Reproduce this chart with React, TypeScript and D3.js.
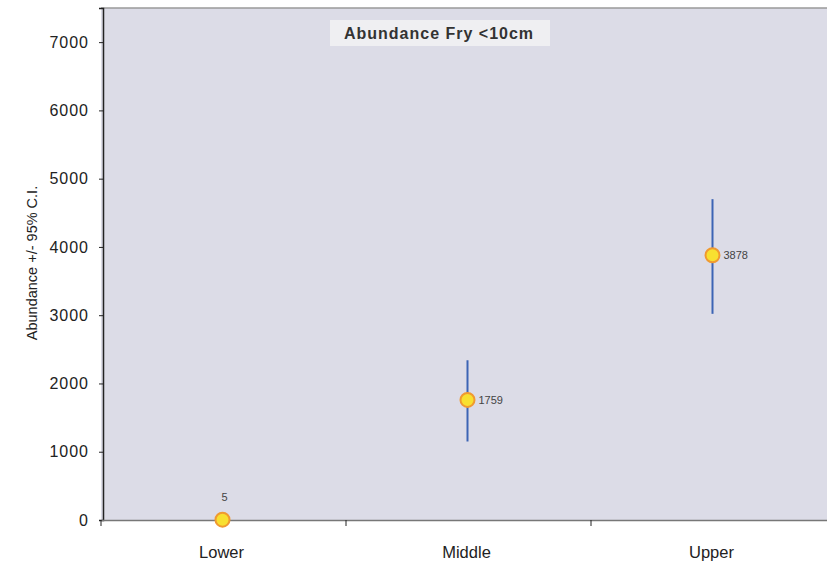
import React, { useEffect, useRef } from 'react';
import * as d3 from 'd3';

// Data
const categories = ['Lower', 'Middle', 'Upper'];
const abundance = [5, 1759, 3878];
const ciLow = [0, 1150, 3020];
const ciHigh = [10, 2340, 4700];
const yTicks = [0, 1000, 2000, 3000, 4000, 5000, 6000, 7000];

const App = () => {
  const chartRef = useRef<SVGSVGElement>(null);

  useEffect(() => {
    const W = 827;
    const H = 571;
    const left = 101;
    const right = 836;
    const top = 8;
    const bottom = 520;
    const font = 'Liberation Sans, Arial, sans-serif';

    const svg = d3.select(chartRef.current);
    svg.selectAll('*').remove();

    svg.append('rect').attr('width', W).attr('height', H).attr('fill', '#ffffff');

    const x = d3.scaleBand<string>().domain(categories).range([left, right]);
    const y = d3.scaleLinear().domain([0, 7500]).range([bottom, top]);

    // Plot area
    svg.append('rect')
      .attr('x', left)
      .attr('y', top)
      .attr('width', right - left)
      .attr('height', bottom - top)
      .attr('fill', '#dcdce7');
    svg.append('line')
      .attr('x1', left).attr('x2', right)
      .attr('y1', top).attr('y2', top)
      .attr('stroke', '#9a9a9a').attr('stroke-width', 1.5);

    // Title box
    svg.append('rect')
      .attr('x', 330).attr('y', 20).attr('width', 220).attr('height', 26)
      .attr('fill', '#efeff2');
    svg.append('text')
      .attr('x', 439).attr('y', 39)
      .attr('text-anchor', 'middle')
      .attr('font-family', font)
      .attr('font-weight', 'bold')
      .attr('font-size', '16px')
      .attr('letter-spacing', '1px')
      .attr('fill', '#333')
      .text('Abundance Fry <10cm');

    // Y axis
    const yAxis = svg.append('g')
      .attr('transform', `translate(${left + 2},0)`)
      .call(d3.axisLeft(y).tickValues(yTicks).tickSize(4).tickPadding(10).tickFormat(d3.format('d')));
    yAxis.select('.domain').attr('stroke', '#222').attr('stroke-width', 1.5);
    yAxis.selectAll('line').attr('stroke', '#222');
    yAxis.selectAll('text')
      .attr('font-family', font)
      .attr('font-size', '16px')
      .attr('letter-spacing', '1px')
      .attr('fill', '#222');

    // X axis
    const xAxis = svg.append('g')
      .attr('transform', `translate(0,${bottom})`)
      .call(d3.axisBottom(x).tickSize(0).tickPadding(26));
    xAxis.select('.domain').attr('stroke', '#777').attr('stroke-width', 1.5);
    xAxis.selectAll('text')
      .attr('font-family', font)
      .attr('font-size', '16.5px')
      .attr('dx', '-2')
      .attr('fill', '#222');
    // band boundary ticks
    svg.selectAll('.bt')
      .data(categories)
      .enter()
      .append('line')
      .attr('x1', d => x(d)!).attr('x2', d => x(d)!)
      .attr('y1', bottom).attr('y2', bottom + 6)
      .attr('stroke', '#222');

    // Y label
    svg.append('text')
      .attr('transform', 'rotate(-90)')
      .attr('x', -263)
      .attr('y', 37)
      .attr('text-anchor', 'middle')
      .attr('font-family', font)
      .attr('font-size', '14.5px')
      .attr('fill', '#222')
      .text('Abundance +/- 95% C.I.');

    const cx = (i: number) => x(categories[i])! + x.bandwidth() / 2 - 1;

    // Error bars
    svg.selectAll('.err')
      .data(abundance)
      .enter()
      .append('line')
      .attr('x1', (d, i) => cx(i)).attr('x2', (d, i) => cx(i))
      .attr('y1', (d, i) => y(ciLow[i]))
      .attr('y2', (d, i) => y(ciHigh[i]))
      .attr('stroke', '#3c64b4')
      .attr('stroke-width', 2);

    // Points
    svg.selectAll('.pt')
      .data(abundance)
      .enter()
      .append('circle')
      .attr('cx', (d, i) => cx(i))
      .attr('cy', d => y(d))
      .attr('r', 7)
      .attr('fill', '#f8e030')
      .attr('stroke', '#f09a30')
      .attr('stroke-width', 2);

    // Value labels
    svg.selectAll('.lbl')
      .data(abundance)
      .enter()
      .append('text')
      .attr('x', (d, i) => i === 0 ? cx(i) + 2 : cx(i) + 11)
      .attr('y', d => d < 100 ? y(d) - 19 : y(d) + 4)
      .attr('text-anchor', (d, i) => i === 0 ? 'middle' : 'start')
      .attr('font-family', font)
      .attr('font-size', '11px')
      .attr('fill', '#444')
      .text(d => String(d));
  }, []);

  return (
    <svg ref={chartRef} width={827} height={571} style={{ position: 'absolute', left: 0, top: 0 }} />
  );
};

export default App;
